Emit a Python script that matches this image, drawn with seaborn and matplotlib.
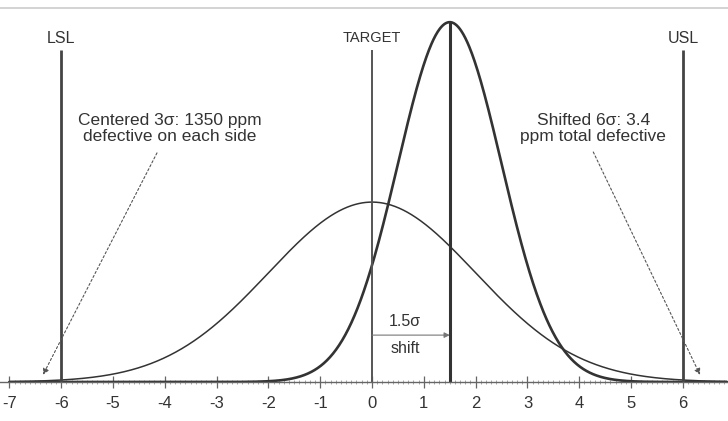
import numpy as np
import pandas as pd
import matplotlib
matplotlib.use("Agg")
import matplotlib.pyplot as plt
import seaborn as sns

# --- distribution parameters ---
curve_names = ["Centered 3σ", "Shifted 6σ"]
curve_means = [0.0, 1.5]
curve_sigmas = [2.0, 1.0]
curve_widths = [1.1, 1.9]

# spec limits / reference lines
lsl = -6
usl = 6
target = 0
shift = 1.5
tick_values = list(range(-7, 7))

# build the curves (normal densities from the mean / sigma above)
x = np.linspace(-7, 6.85, 1400)
rows = []
for name, mu, sd in zip(curve_names, curve_means, curve_sigmas):
    y = np.exp(-0.5 * ((x - mu) / sd) ** 2) / (sd * np.sqrt(2 * np.pi))
    rows.append(pd.DataFrame({"x": x, "density": y, "curve": name}))
df = pd.concat(rows, ignore_index=True)
peak = 1 / (min(curve_sigmas) * np.sqrt(2 * np.pi))

sns.set_theme(style="white")
plt.rcParams["font.family"] = ["Liberation Sans", "DejaVu Sans"]

fig = plt.figure(figsize=(7.28, 4.21), dpi=100)
ax = fig.add_axes([0, 0.0926, 1, 0.888])

for name, lw in zip(curve_names, curve_widths):
    sns.lineplot(data=df[df["curve"] == name], x="x", y="density",
                 color="#333333", linewidth=lw, ax=ax, legend=False)

ymax = peak * 374 / 360
ax.set_xlim(-7.18, 6.87)
ax.set_ylim(0, ymax)

# spec limit and target lines
ax.vlines([lsl, usl], 0, 0.368, color="#444444", linewidth=2)
ax.vlines(target, 0, 0.368, color="#555555", linewidth=1.4)
ax.vlines(shift, 0, peak, color="#333333", linewidth=2.2)

ax.text(lsl, 0.381, "LSL", ha="center", va="center", fontsize=11.5, color="#333333")
ax.text(usl, 0.381, "USL", ha="center", va="center", fontsize=11.5, color="#333333")
ax.text(target, 0.381, "TARGET", ha="center", va="center", fontsize=10.5, color="#333333")

# annotations
ax.text(-3.9, 0.281, "Centered 3σ: 1350 ppm\ndefective on each side",
        ha="center", va="center", fontsize=12.5, color="#333333", linespacing=1.15)
ax.text(4.27, 0.281, "Shifted 6σ: 3.4\nppm total defective",
        ha="center", va="center", fontsize=12.5, color="#333333", linespacing=1.15)
arrow_style = dict(arrowstyle="-|>", linestyle=(0, (2, 2)), color="#555555",
                   lw=0.8, shrinkA=0, shrinkB=0, mutation_scale=9)
ax.annotate("", xy=(-6.35, 0.008), xytext=(-4.15, 0.254), arrowprops=arrow_style)
ax.annotate("", xy=(6.33, 0.008), xytext=(4.27, 0.255), arrowprops=arrow_style)

# 1.5 sigma shift arrow
ax.annotate("", xy=(shift, 0.052), xytext=(target, 0.052),
            arrowprops=dict(arrowstyle="-|>", color="#777777", lw=0.8,
                            shrinkA=0, shrinkB=0, mutation_scale=8))
ax.text(0.64, 0.067, "1.5σ", ha="center", va="center", fontsize=11.5, color="#333333")
ax.text(0.64, 0.037, "shift", ha="center", va="center", fontsize=11.5, color="#333333")

# axis styling
ax.set_xticks(tick_values)
ax.set_xticklabels([str(t) for t in tick_values])
ax.set_xticks(np.arange(-7, 6.9, 0.1), minor=True)
ax.set_yticks([])
ax.tick_params(axis="x", which="major", direction="inout", length=8, width=0.9,
               color="#666666", labelsize=12, labelcolor="#333333", pad=6, bottom=True)
ax.tick_params(axis="x", which="minor", direction="inout", length=3, width=0.6,
               color="#999999", bottom=True)
ax.set_xlabel("")
ax.set_ylabel("")
for side in ["left", "right"]:
    ax.spines[side].set_visible(False)
ax.spines["bottom"].set_color("#666666")
ax.spines["bottom"].set_linewidth(1.0)
ax.spines["top"].set_color("#cccccc")
ax.spines["top"].set_linewidth(1.2)

fig.savefig("out.png", dpi=100)
